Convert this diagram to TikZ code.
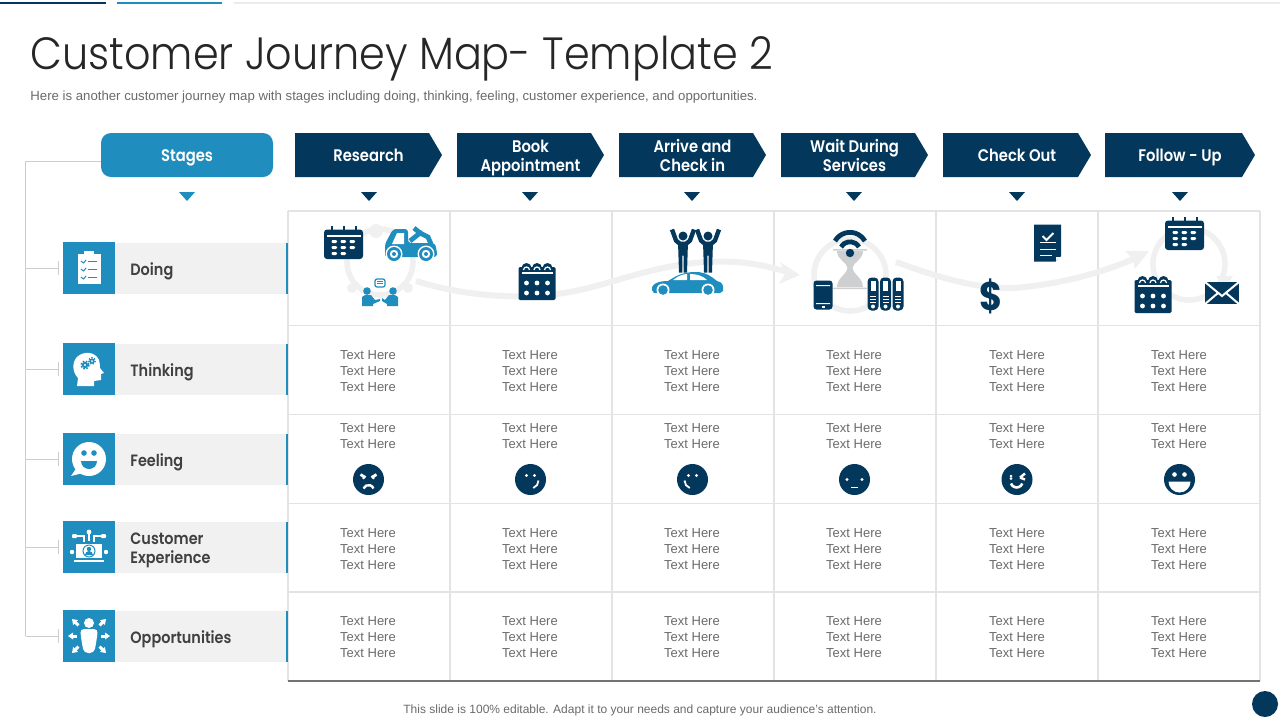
\documentclass[tikz,border=0pt]{standalone}
\usepackage{fontspec}
\setmainfont{Liberation Sans}
\newfontfamily\titlefont[FakeStretch=0.915]{Poppins Light}
\newfontfamily\headfont[FakeStretch=0.88]{Poppins SemiBold}
\newfontfamily\dollarfont[FakeStretch=0.88]{Poppins Bold}
\usetikzlibrary{calc}
\definecolor{navy}{HTML}{03375C}
\definecolor{teal}{HTML}{1F8DBE}
\definecolor{gridc}{HTML}{E1E3E5}
\definecolor{rowbg}{HTML}{F1F1F2}
\definecolor{flow}{HTML}{F0F0F0}
\definecolor{txt}{HTML}{6A6A6A}
\definecolor{dark}{HTML}{404040}
\newcommand{\hs}{\vphantom{Apg}}
\tikzset{
 head/.style={font=\headfont\fontsize{8.4}{9.5}\selectfont,text=white,align=center,inner sep=0},
 rowlabel/.style={font=\headfont\fontsize{8.2}{9.5}\selectfont,text=dark,align=left,anchor=west,inner sep=0},
 celltext/.style={font=\fontsize{6.5}{8}\selectfont,text=txt,align=center,inner sep=0},
 gridline/.style={draw=gridc,line width=0.55pt},
 bus/.style={draw=gridc!90!black,line width=0.5pt},
 flowline/.style={draw=flow,line width=3pt},
 ring/.style={draw=flow,line width=2.8pt},
}
\newcommand{\chev}[4]{%
 \fill[navy] (#2,133) -- (#3-13,133) -- (#3,155) -- (#3-13,177) -- (#2,177) -- cycle;
 \node[head] (#1) at ({(#2+#3)/2},158) {#4};}
\newcommand{\tri}[2]{\fill[#2] (#1-8,192) -- (#1+8,192) -- (#1,201) -- cycle;}
\newcommand{\rowitem}[3]{%
 \fill[rowbg] (115,#2+1) rectangle (287,#2+52);
 \fill[teal] (286,#2+1) rectangle (288,#2+52);
 \node[fill=teal,minimum width=26pt,minimum height=26pt,inner sep=0,anchor=north west] (#1) at (63,#2) {};
 \node[rowlabel] (#1l) at (130,#2+29) {#3};}
\newcommand{\calA}[3]{%
 \begin{scope}[shift={(#1,#2)}]
 \fill[#3,rounded corners=0.7pt] (-18.5,-14) rectangle (18.5,19);
 \foreach \x in {-10.5,0,10.5}{\fill[#3] (\x,-13) circle (5);}
 \fill[white] (-15.5,-9.5) rectangle (15.5,-7);
 \foreach \x in {-10.5,0,10.5}{\draw[white,line width=0.6pt] (\x-3,-11) arc (180:360:3);}
 \foreach \x in {-10.5,0,10.5}\foreach \y in {2,12}\fill[white] (\x,\y) circle (2.4);
 \end{scope}}
\newcommand{\pill}[2]{\fill[white,rounded corners=0.6pt] (#1,#2) rectangle (#1+5.5,#2+3);}
\newcommand{\calB}[3]{%
 \begin{scope}[shift={(#1,#2)}]
 \fill[#3,rounded corners=1.5pt] (-19.5,-14.5) rectangle (19.5,15);
 \foreach \x in {-12,0,12}\fill[#3] (\x-1,-18) rectangle (\x+1,-13);
 \fill[white] (-17,-9) rectangle (17,-7.5);
 \pill{-12}{-4}\pill{-3}{-4}\pill{6}{-4}
 \pill{-12}{2}\pill{-3}{2}\pill{6}{2}
 \pill{-12}{8}\pill{-3}{8}
 \end{scope}}
\newcommand{\person}[2]{%
 \begin{scope}[shift={(#1,#2)}]
 \fill[navy] (0,-7.5) circle (4.5);
 \fill[navy] (-5,-2) -- (5,-2) -- (4,29) -- (0.7,29) -- (0.7,12) -- (-0.7,12) -- (-0.7,29) -- (-4,29) -- cycle;
 \draw[navy,line width=2.2pt] (-3.5,0) -- (-7,-3) -- (-11,-14);
 \draw[navy,line width=2.2pt] (3.5,0) -- (7,-3) -- (11,-14);
 \end{scope}}
\newcommand{\binder}[1]{%
 \begin{scope}[shift={(#1,294)}]
 \fill[navy,rounded corners=2pt] (-5.5,-16.5) rectangle (5.5,16.5);
 \fill[white] (-2.5,-13) rectangle (2.5,-3);
 \foreach \y in {2,5,8}\fill[white] (-3,\y) rectangle (3,\y+1.3);
 \fill[white] (0,12.5) circle (2);
 \end{scope}}
\newcommand{\face}[1]{\fill[navy] (#1,479.5) circle (15.5);}
\newcommand{\threelines}[2]{\node[celltext] (#1) at #2 {Text Here\\Text Here\\Text Here};}
\begin{document}
\begin{tikzpicture}[x=0.5pt,y=-0.5pt]
\useasboundingbox (0,0) rectangle (1280,720);
\fill[navy] (0,2) rectangle (106,4);
\fill[teal] (117,2) rectangle (222,4);
\fill[gridc!70] (234,2) rectangle (1280,4);
\node[anchor=base west,inner sep=0,font=\titlefont\fontsize{22.6}{26}\selectfont,text=black!85] (title) at (30,69) {Customer Journey Map- Template 2};
\node[anchor=west,inner sep=0,font=\fontsize{6.6}{8}\selectfont,text=txt] (sub) at (30,97) {Here is another customer journey map with stages including doing, thinking, feeling, customer experience, and opportunities.};
\node[fill=teal,rounded corners=5pt,minimum width=86pt,minimum height=22pt,inner sep=0] (stages) at (187,155) {};
\node[head] (stagesl) at (187,158) {\hs Stages};
\chev{c1}{295}{442}{\hs Research}
\chev{c2}{457}{604}{\hs Book\\\hs Appointment}
\chev{c3}{619}{766}{\hs Arrive and\\\hs Check in}
\chev{c4}{781}{928}{\hs Wait During\\\hs Services}
\chev{c5}{943}{1091}{\hs Check Out}
\chev{c6}{1105}{1255}{\hs Follow - Up}
\tri{187}{teal}
\foreach \x in {369,530,692,854,1017,1180}{\tri{\x}{navy}}
\foreach \y in {211,325.5,414.5,503.5,592}{\draw[gridline] (288,\y) -- (1260,\y);}
\foreach \x in {288,450,612,774,936,1098,1260}{\draw[gridline] (\x,211) -- (\x,681);}
\draw[draw=gridc!50!black,line width=0.75pt] (288,681) -- (1260,681);
\draw[flowline] (416,281) .. controls (470,298) and (530,300) .. (575,291) .. controls (620,282) and (670,258) .. (735,262) .. controls (755,263) and (775,268) .. (790,273);
\fill[flow] (780,262) -- (800,275) -- (779,284) -- (785,274) -- cycle;
\draw[flowline] (896,262) .. controls (940,278) and (985,292) .. (1025,287) .. controls (1070,282) and (1110,270) .. (1140,256);
\fill[flow] (1125,251) -- (1149,251) -- (1135,269) -- (1133,259) -- cycle;
\draw[ring] (380,262) circle (33);
\fill[flow] (376,231) circle (7); \fill[flow] (352,288) circle (5); \fill[flow] (408,288) circle (5);
\draw[ring] (850,275) circle (36);
\draw[ring] (1189,264) circle (36);
\fill[flow] (1216,276) -- (1233,276) -- (1225,289) -- cycle;
\calB{343.5}{244}{navy}
\begin{scope}[shift={(410,243)},teal]
 \fill[rounded corners=1.5pt] (-25,10) -- (-25,1) -- (-17,-14) -- (-2,-14) -- (-2,0) -- (25,0) -- (27,9) -- (27,14) -- (-25,14) -- cycle;
 \fill[white] (-18,1) -- (-13,-10) -- (-6,-10) -- (-6,1) -- cycle;
 \draw[line width=2.4pt] (0,-2) -- (10,-10) -- (18,-6) -- (21,1);
 \draw[line width=2.4pt] (4,-15) -- (10,-10);
 \fill (10,-10) circle (3);
 \fill[white] (-16,11) circle (8.5); \fill[white] (16,11) circle (8.5);
 \fill (-16,11) circle (7); \fill (16,11) circle (7);
 \fill[white] (-16,11) circle (4.2); \fill[white] (16,11) circle (4.2);
 \fill (-16,11) circle (2); \fill (16,11) circle (2);
\end{scope}
\begin{scope}[shift={(380,294)},teal]
 \fill (-13,-3) circle (3.8); \fill (13,-3) circle (3.8);
 \fill (-18,12) -- (-18,3) -- (-15,1) -- (-9,1) -- (-5,6) -- (0,5) -- (0,7) -- (-7,10) -- (-7,12) -- cycle;
 \fill (18,12) -- (18,3) -- (15,1) -- (9,1) -- (5,6) -- (2,4) -- (2,7) -- (7,10) -- (7,12) -- cycle;
 \draw[line width=0.6pt,fill=white,rounded corners=1pt] (-5,-15) rectangle (5,-7);
 \draw[line width=0.4pt] (-3,-13) -- (3,-13) (-3,-10.5) -- (3,-10.5);
\end{scope}
\calA{537}{281}{navy}
\person{683}{243.5}\person{708}{243.5}
\begin{scope}[shift={(688,285)},teal]
 \fill (-36,5) .. controls (-37,-2) and (-28,-4) .. (-20,-4) .. controls (-12,-9) and (-6,-13) .. (8,-13) .. controls (18,-13) and (24,-8) .. (29,-4) .. controls (34,-3) and (36,0) .. (35,6) -- (32,8) -- (-34,8) -- cycle;
 \fill[white] (-15,-5) .. controls (-10,-9) and (-5,-11) .. (-1,-11) -- (-1,-5) -- cycle;
 \fill[white] (2,-11) .. controls (9,-11) and (15,-9) .. (19,-5) -- (2,-5) -- cycle;
 \fill[white] (-25,5) circle (6.5); \fill[white] (20,5) circle (6.5);
 \fill (-25,5) circle (4.8); \fill (20,5) circle (4.8);
\end{scope}
\begin{scope}[shift={(850,250)}]
 \fill[gridc!80!gray] (-13,1) .. controls (-13,10) and (-3,12) .. (-2.5,18) .. controls (-3,24) and (-13,28) .. (-13,37) -- (13,37) .. controls (13,28) and (3,24) .. (2.5,18) .. controls (3,12) and (13,10) .. (13,1) -- cycle;
 \fill[gridc!80!gray] (-17,-1) rectangle (17,0.5) (-17,37.5) rectangle (17,39);
 \draw[navy,line width=2.4pt] (-15,-9) arc (210:330:17.3);
 \draw[navy,line width=2.4pt] (-9,-3) arc (210:330:10.4);
 \fill[navy] (0,3) circle (4.2);
\end{scope}
\begin{scope}[shift={(823,295)}]
 \fill[navy,rounded corners=1.5pt] (-9.5,-14.5) rectangle (9.5,14.5);
 \fill[white] (-7,-10) rectangle (7,-9) (-7,8) rectangle (7,9);
 \fill[white] (-1.5,11) rectangle (1.5,12.5);
\end{scope}
\binder{873}\binder{885.5}\binder{898}
\begin{scope}[shift={(1047.5,243)}]
 \fill[navy] (-13.5,-18.5) -- (13.5,-18.5) -- (13.5,13) -- (8,18.5) -- (-13.5,18.5) -- cycle;
 \draw[white,line width=1pt] (-5,-7) -- (-1,-3) -- (6,-10);
 \fill[white] (-8,-1) rectangle (8,0);
 \fill[white] (-8,6) rectangle (8,7);
 \fill[white] (-8,12) rectangle (4,13);
 \fill[white] (8.5,18) -- (8.5,14) -- (13,14) -- cycle;
\end{scope}
\node[inner sep=0,text=navy,font=\dollarfont\fontsize{20}{20}\selectfont] (dollar) at (991,296) {\$};
\calB{1184.5}{235}{navy}
\calA{1153}{294}{navy}
\begin{scope}[shift={(1222,293)}]
 \fill[navy] (-17,-11) -- (17,-11) -- (17,11) -- (-17,11) -- cycle;
 \draw[white,line width=1pt] (-17,-11) -- (0,3) -- (17,-11) (-17,11) -- (-4,0) (17,11) -- (4,0);
\end{scope}
\rowitem{r1}{242}{\hs Doing}
\rowitem{r2}{343}{\hs Thinking}
\rowitem{r3}{433}{\hs Feeling}
\rowitem{r4}{521}{\hs Customer\\\hs Experience}
\rowitem{r5}{610}{\hs Opportunities}
\coordinate (bustop) at (25.5,161);
\coordinate (busbot) at (25.5,636);
\draw[bus] ($(stages.west)+(0,6)$) -- (bustop) -- (busbot);
\foreach \n in {r1,r2,r3,r4,r5}{
 \draw[bus] (bustop |- \n.west) -- ($(\n.west)+(-5,0)$);
 \draw[bus] ($(\n.west)+(-5,-7)$) -- ($(\n.west)+(-5,7)$);
}
\begin{scope}[shift={(89,268)},white]
 \fill (-11.5,-14) rectangle (11.5,16);
 \fill (-5,-17) rectangle (5,-13);
 \foreach \y in {-7,1,9}{
  \draw[teal,line width=0.5pt] (-8,\y) -- (-5.5,\y+2) -- (-3,\y-1);
  \fill[teal] (-1,\y) rectangle (8,\y+1);}
\end{scope}
\begin{scope}[shift={(89,369)},white]
 \fill (-12,17) -- (-11,9) .. controls (-17,3) and (-17,-7) .. (-12,-12) .. controls (-6,-18) and (6,-18) .. (10,-9) .. controls (11,-6) and (11,-3) .. (11,-1) -- (15,4) -- (12,5) -- (12,11) -- (5,12) -- (5,17) -- cycle;
 \fill[teal] (-4,-4) circle (3.2); \fill[teal] (3,-8) circle (2.6);
 \draw[teal,line width=0.8pt,dash pattern=on 0.8pt off 0.8pt] (-4,-4) circle (4);
 \draw[teal,line width=0.7pt,dash pattern=on 0.7pt off 0.7pt] (3,-8) circle (3.2);
 \fill[white] (-4,-4) circle (1.2); \fill[white] (3,-8) circle (1);
\end{scope}
\begin{scope}[shift={(89,459)},white]
 \fill (0,0) circle (17);
 \fill (-12,8) -- (-18,17) -- (-6,14) -- cycle;
 \fill[teal] (-5,-6) circle (2.8); \fill[teal] (5,-6) circle (2.8);
 \fill[teal] (-8,2) -- (8,2) arc (0:180:8) -- cycle;
\end{scope}
\begin{scope}[shift={(89,547)},white]
 \fill (-13,-3) rectangle (13,11);
 \fill (-15,12.5) rectangle (15,15);
 \draw[teal,line width=0.5pt] (0,4) circle (6);
 \fill[teal] (0,2) circle (2.2);
 \fill[teal] (-4,8) arc (180:360:4) -- cycle;
 \fill (-17,5) circle (2.2); \fill (17,5) circle (2.2);
 \draw[line width=0.7pt] (0,-6) -- (0,-15) (-5,-5) -- (-5,-11) -- (-14,-11) (5,-5) -- (5,-11) -- (14,-11);
 \fill (0,-15) circle (2.4);
 \fill[rounded corners=0.5pt] (-17,-13) rectangle (-12,-9) (17,-13) rectangle (12,-9);
\end{scope}
\begin{scope}[shift={(89,636)},white]
 \fill (0,-13) circle (5);
 \fill[rounded corners=2pt] (-9,-7) -- (9,-7) -- (7,8) -- (5,17) -- (-5,17) -- (-7,8) -- cycle;
 \foreach \a/\r in {0/12,45/15,135/15,180/12,225/15,315/15}{
  \begin{scope}[rotate=\a]
   \draw[line width=1.5pt] (\r,0) -- (\r+5,0);
   \fill (\r+9,0) -- (\r+4,-3.5) -- (\r+4,3.5) -- cycle;
  \end{scope}}
\end{scope}
\foreach \x/\k in {368/a,530/b,692/c,854/d,1017/e,1179/f}{
 \threelines{t2\k}{(\x,371)}
 \threelines{t4\k}{(\x,549)}
 \threelines{t5\k}{(\x,637)}
 \node[celltext] (t3\k) at (\x,436) {Text Here\\Text Here};
}
\foreach \x in {368.5,530.5,692.5,854.5,1017,1179.5}{\face{\x}}
\begin{scope}[shift={(368.5,479.5)},white]
 \draw[line width=1.4pt] (-8,-5) -- (-3,-2) (8,-5) -- (3,-2);
 \fill (-5,-1.5) circle (1.4); \fill (5,-1.5) circle (1.4);
 \draw[line width=1.2pt] (-5,9) arc (200:340:5.3);
\end{scope}
\begin{scope}[shift={(530.5,479.5)},white]
 \fill (-4,-4) circle (1.6); \fill (4,-4) circle (1.6);
 \draw[line width=0.9pt] (8,1) arc (0:70:8);
\end{scope}
\begin{scope}[shift={(692.5,479.5)},white]
 \fill (-4,-4) circle (1.6); \fill (4,-4) circle (1.6);
 \draw[line width=0.9pt] (-8,1) arc (180:110:8);
\end{scope}
\begin{scope}[shift={(854.5,479.5)},white]
 \fill (-7.5,0) circle (1.7); \fill (7.5,0) circle (1.7);
 \fill (-3.5,7) rectangle (3.5,8.2);
\end{scope}
\begin{scope}[shift={(1017,479.5)},white]
 \fill (-6,-3.5) circle (1.5);\fill (-6,-1) circle (1.5);
 \draw[line width=1.2pt] (3,-2) -- (8,-6) (3,-2) -- (8,0);
 \draw[line width=1.3pt] (-6,4) arc (160:20:6);
\end{scope}
\begin{scope}[shift={(1179.5,479.5)},white]
 \fill (-5,-5) circle (2.3); \fill (5,-5) circle (2.3);
 \fill (-11,2) -- (11,2) arc (0:180:11) -- cycle;
\end{scope}
\node[inner sep=0,font=\fontsize{6}{8}\selectfont,text=txt] (foot) at (640,710.5) {This slide is 100\% editable. Adapt it to your needs and capture your audience's attention.};
\fill[navy] (1265,704) circle (13);
\end{tikzpicture}
\end{document}
